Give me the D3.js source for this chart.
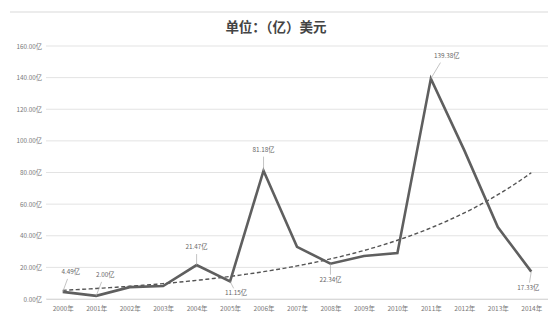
<!DOCTYPE html>
<html>
<head>
<meta charset="utf-8">
<script src="https://cdn.jsdelivr.net/npm/d3@7"></script>
<style>
  body { margin: 0; background: #fff; }
  text { font-family: "Noto Sans CJK SC", "Noto Sans", sans-serif; }
</style>
</head>
<body>
<div id="chart"></div>
<script>
// values, unit: 亿美元
const years = ['2000年','2001年','2002年','2003年','2004年','2005年','2006年','2007年',
               '2008年','2009年','2010年','2011年','2012年','2013年','2014年'];
const values = [4.49, 2.00, 7.5, 8.2, 21.47, 11.15, 81.18, 33.0, 22.34, 27.2, 29.0, 139.38, 94.0, 45.5, 17.33];
const yTicks = [0, 20, 40, 60, 80, 100, 120, 140, 160];

// which points carry a label, and where the label sits (dx, dy from point)
const labelled = [
  {i: 0, dx: 8, dy: -18},
  {i: 1, dx: 9, dy: -19},
  {i: 4, dx: 0, dy: -16},
  {i: 5, dx: 6, dy: 14},
  {i: 6, dx: 0, dy: -19},
  {i: 8, dx: 0, dy: 18},
  {i: 11, dx: 16, dy: -21},
  {i: 14, dx: -3, dy: 18}
];

const W = 548, H = 312;
const svg = d3.select('#chart').append('svg')
    .attr('width', W).attr('height', H);

// faint frame line at top
svg.append('line')
    .attr('x1', 10).attr('x2', W).attr('y1', 12).attr('y2', 12)
    .attr('stroke', '#d9d9d9').attr('stroke-width', 1);

svg.append('text')
    .attr('x', 276).attr('y', 32)
    .attr('text-anchor', 'middle')
    .attr('font-size', 13.5).attr('font-weight', 'bold')
    .attr('fill', '#444')
    .text('单位：（亿）美元');

const x = d3.scalePoint().domain(years).range([46, 548]).padding(0.5);
const y = d3.scaleLinear().domain([0, 160]).range([299, 46]);

// grid
svg.append('g').selectAll('line')
  .data(yTicks)
  .join('line')
    .attr('x1', 46).attr('x2', W)
    .attr('y1', d => y(d)).attr('y2', d => y(d))
    .attr('stroke', '#e3e3e3').attr('stroke-width', 1);

// y axis
const yAxis = svg.append('g')
    .attr('transform', 'translate(42,0)')
    .call(d3.axisLeft(y).tickValues(yTicks).tickSize(0).tickPadding(0)
      .tickFormat(d => d.toFixed(2) + '亿'));
yAxis.select('.domain').remove();
yAxis.selectAll('text').attr('font-size', 6.3).attr('fill', '#777')
    .attr('font-family', '"Noto Sans CJK SC", sans-serif');

// x axis
const xAxis = svg.append('g')
    .attr('transform', 'translate(0,299)')
    .call(d3.axisBottom(x).tickSize(0).tickPadding(7));
xAxis.select('.domain').attr('stroke', '#d9d9d9');
xAxis.selectAll('text').attr('font-size', 6.5).attr('fill', '#777')
    .attr('font-family', '"Noto Sans CJK SC", sans-serif');

// exponential trend (least squares on ln values, like a spreadsheet trendline)
const n = values.length;
const lx = d3.range(n);
const ly = values.map(Math.log);
const mx = d3.mean(lx), my = d3.mean(ly);
const b = d3.sum(lx, (v, k) => (v - mx) * (ly[k] - my)) / d3.sum(lx, v => (v - mx) ** 2);
const a = my - b * mx;
const trendX = d3.range(0, n - 1 + 0.001, 0.1);

const xi = d3.scaleLinear().domain([0, n - 1]).range([x(years[0]), x(years[n - 1])]);

svg.append('path')
    .datum(trendX)
    .attr('fill', 'none')
    .attr('stroke', '#555')
    .attr('stroke-width', 1.4)
    .attr('stroke-dasharray', '4,2.5')
    .attr('d', d3.line().x(t => xi(t)).y(t => y(Math.exp(a + b * t))));

// main line
svg.append('path')
    .datum(values)
    .attr('fill', 'none')
    .attr('stroke', '#5f5f5f')
    .attr('stroke-width', 2.6)
    .attr('stroke-linejoin', 'miter')
    .attr('d', d3.line().x((d, i) => x(years[i])).y(d => y(d)));

// data labels with leader lines
const lab = svg.append('g').selectAll('g')
  .data(labelled)
  .join('g');

lab.append('line')
    .attr('x1', d => x(years[d.i]))
    .attr('y1', d => y(values[d.i]))
    .attr('x2', d => x(years[d.i]) + d.dx * 0.6)
    .attr('y2', d => y(values[d.i]) + (d.dy < 0 ? d.dy + 5 : d.dy - 7))
    .attr('stroke', '#aaa').attr('stroke-width', 0.7);

lab.append('text')
    .attr('x', d => x(years[d.i]) + d.dx)
    .attr('y', d => y(values[d.i]) + d.dy)
    .attr('text-anchor', 'middle')
    .attr('font-size', 6.3).attr('fill', '#666')
    .text(d => values[d.i].toFixed(2) + '亿');
</script>
</body>
</html>
